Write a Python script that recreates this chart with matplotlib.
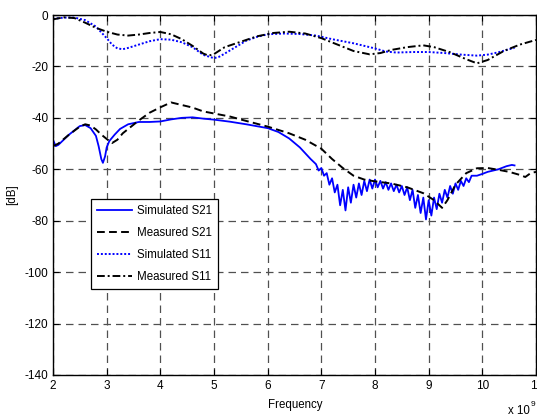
import matplotlib
matplotlib.use("Agg")
import matplotlib.pyplot as plt

plt.rcParams['font.family'] = ['Liberation Sans', 'DejaVu Sans']

# Simulated S11 (blue dotted)
f_s11_sim = [2.0, 2.2, 2.4, 2.6, 2.8, 3.0, 3.1, 3.2, 3.3, 3.4, 3.6, 3.8, 4.0, 4.2, 4.4, 4.6, 4.8, 5.0, 5.1,
             5.2, 5.4, 5.6, 5.8, 6.0, 6.3, 6.6, 6.9, 7.2, 7.6, 8.0, 8.2, 8.4, 8.7, 9.0, 9.3, 9.6, 9.9, 10.1,
             10.3, 10.5, 10.6]
s11_sim = [-1.5, -1.0, -1.0, -2.0, -4.5, -9.0, -11.5, -13.0, -13.3, -12.8, -11.5, -10.2, -9.4, -9.6, -10.6,
           -12.5, -15.5, -16.8, -16.2, -15.0, -12.5, -10.0, -8.5, -7.5, -7.2, -7.4, -8.0, -9.4, -11.0, -13.0,
           -14.2, -14.6, -14.4, -14.4, -14.8, -15.4, -15.8, -15.4, -14.5, -13.3, -12.8]

# Measured S11 (black dash-dot)
f_s11_meas = [2.0, 2.2, 2.4, 2.6, 2.8, 3.0, 3.2, 3.4, 3.6, 3.8, 4.0, 4.2, 4.4, 4.6, 4.8, 4.9, 5.0, 5.2, 5.5,
              5.8, 6.1, 6.4, 6.7, 7.0, 7.3, 7.6, 7.9, 8.1, 8.3, 8.6, 8.9, 9.1, 9.4, 9.7, 9.9, 10.1, 10.4, 10.7,
              11.0]
s11_meas = [-1.7, -0.9, -1.2, -3.0, -5.0, -6.5, -7.6, -8.0, -7.6, -7.0, -6.6, -7.5, -9.4, -12.0, -15.0,
            -15.8, -15.2, -12.5, -10.4, -8.3, -7.0, -6.5, -7.2, -9.0, -11.5, -14.0, -15.3, -14.8, -13.6,
            -12.5, -11.8, -12.5, -14.5, -17.2, -18.8, -17.5, -14.0, -11.5, -9.7]

# Measured S21 (black dashed)
f_s21_meas = [2.0, 2.1, 2.3, 2.5, 2.6, 2.7, 2.8, 2.9, 3.0, 3.1, 3.2, 3.3, 3.45, 3.6, 3.8, 4.0, 4.2, 4.4, 4.6,
              4.8, 5.0, 5.3, 5.6, 6.0, 6.4, 6.7, 7.0, 7.2, 7.4, 7.6, 7.8, 8.0, 8.3, 8.6, 8.9, 9.1, 9.2, 9.25,
              9.35, 9.5, 9.7, 9.9, 10.1, 10.3, 10.5, 10.7, 10.8, 10.9, 11.0]
s21_meas = [-51.0, -50.0, -46.5, -43.4, -42.5, -43.0, -44.5, -46.5, -48.2, -49.8, -48.5, -46.0, -43.5, -41.0,
            -38.0, -35.9, -34.0, -35.0, -36.0, -37.5, -38.3, -39.5, -41.2, -43.4, -46.0, -48.5, -52.0, -56.0,
            -59.5, -62.5, -64.0, -64.7, -65.5, -67.0, -69.3, -72.0, -74.0, -75.0, -72.0, -66.0, -61.5, -59.6,
            -59.5, -60.2, -61.0, -62.2, -63.0, -61.5, -61.0]

# Simulated S21 (blue solid)
f_s21_sim = [2.0, 2.05, 2.1, 2.3, 2.5, 2.6, 2.7, 2.8, 2.85, 2.9, 2.93, 2.97, 3.0, 3.05, 3.15, 3.25, 3.4, 3.6,
             3.8, 4.0, 4.2, 4.4, 4.6, 4.8, 5.0, 5.3, 5.6, 6.0, 6.2, 6.4, 6.6, 6.8,
             6.90, 6.95, 7.00, 7.05, 7.10, 7.15, 7.20, 7.25, 7.30, 7.35, 7.40, 7.45, 7.50, 7.55, 7.60, 7.65,
             7.70, 7.75, 7.80, 7.85, 7.90, 7.95, 8.00, 8.05, 8.10, 8.15, 8.20, 8.25, 8.30, 8.35, 8.40, 8.45,
             8.50, 8.55, 8.60, 8.65, 8.70, 8.75, 8.80, 8.85, 8.90, 8.95, 9.00, 9.05, 9.10, 9.15, 9.20, 9.25,
             9.30, 9.35, 9.40, 9.45, 9.50, 9.55, 9.60, 9.65, 9.70, 9.75, 9.80,
             9.9, 10.0, 10.1, 10.3, 10.45, 10.55, 10.6]
s21_sim = [-48.5, -51.0, -50.5, -46.5, -43.2, -42.8, -44.0, -47.0, -51.0, -56.0, -57.5, -55.0, -51.5, -49.0,
           -46.5, -44.3, -42.5, -41.6, -41.6, -41.4, -40.6, -40.0, -39.8, -40.3, -40.7, -41.5, -42.5, -44.0,
           -45.5, -48.0, -51.5, -56.0,
           -58.0, -60.5, -59.5, -62.5, -61.5, -66.0, -63.5, -69.0, -66.0, -74.0, -68.0, -76.0, -67.0, -73.0,
           -66.0, -71.0, -65.5, -70.0, -64.5, -68.5, -64.0, -67.5, -64.0, -67.0, -64.5, -67.5, -65.0, -68.0,
           -65.5, -68.5, -66.0, -69.0, -66.5, -70.0, -67.0, -72.0, -68.0, -75.0, -70.0, -77.0, -71.0, -79.5,
           -72.0, -78.0, -71.0, -75.5, -69.5, -73.0, -68.0, -71.0, -66.5, -69.5, -65.5, -68.0, -64.5, -66.5,
           -63.5, -65.0, -62.5,
           -62.5, -61.8, -61.0, -60.0, -58.8, -58.3, -58.5]

xticks = [2, 3, 4, 5, 6, 7, 8, 9, 10, 11]
yticks = [0, -20, -40, -60, -80, -100, -120, -140]

fig = plt.figure(figsize=(5.37, 4.17), dpi=100)
ax = fig.add_axes([53/537, 1 - 375/417, 483/537, 360/417])

ax.plot(f_s21_sim, s21_sim, color='#0000ff', lw=1.3, ls='-', label='Simulated S21')
ax.plot(f_s21_meas, s21_meas, color='black', lw=1.4, ls=(0, (4, 2.2)), label='Measured S21')
ax.plot(f_s11_sim, s11_sim, color='#0000ff', lw=1.4, ls=(0, (1, 1)), label='Simulated S11')
ax.plot(f_s11_meas, s11_meas, color='black', lw=1.4, ls=(0, (4, 1.5, 1, 1.5)), label='Measured S11')

ax.set_xlim(2, 11)
ax.set_ylim(-140, 0)
ax.set_xticks(xticks)
ax.set_xticklabels([str(t) for t in xticks])
ax.set_yticks(yticks)
ax.set_yticklabels([str(t) for t in yticks])
ax.tick_params(direction='in', length=4, width=0.8, top=True, right=True, labelsize=8.5, colors='black')
ax.grid(True, color='#505050', ls=(0, (6, 4)), lw=0.9)
for sp in ax.spines.values():
    sp.set_linewidth(1.0)

fig.text(295/537, 1 - 405/417, 'Frequency', ha='center', va='center', fontsize=8.3)
fig.text(12/537, 1 - 195/417, '[dB]', ha='center', va='center', fontsize=8.3, rotation=90)
fig.text(508/537, 1 - 411/417, 'x 10', ha='left', va='center', fontsize=8.3)
fig.text(531/537, 1 - 404/417, '9', ha='left', va='center', fontsize=6)

leg = ax.legend(loc='upper left', bbox_to_anchor=((91 - 53)/483, (375 - 199)/360), borderaxespad=0,
                fontsize=8.3, frameon=True, fancybox=False, edgecolor='black', framealpha=1,
                handlelength=3.0, borderpad=0.55, labelspacing=0.85, handletextpad=0.45)
leg.get_frame().set_linewidth(0.9)

fig.savefig('out.png', dpi=100)
